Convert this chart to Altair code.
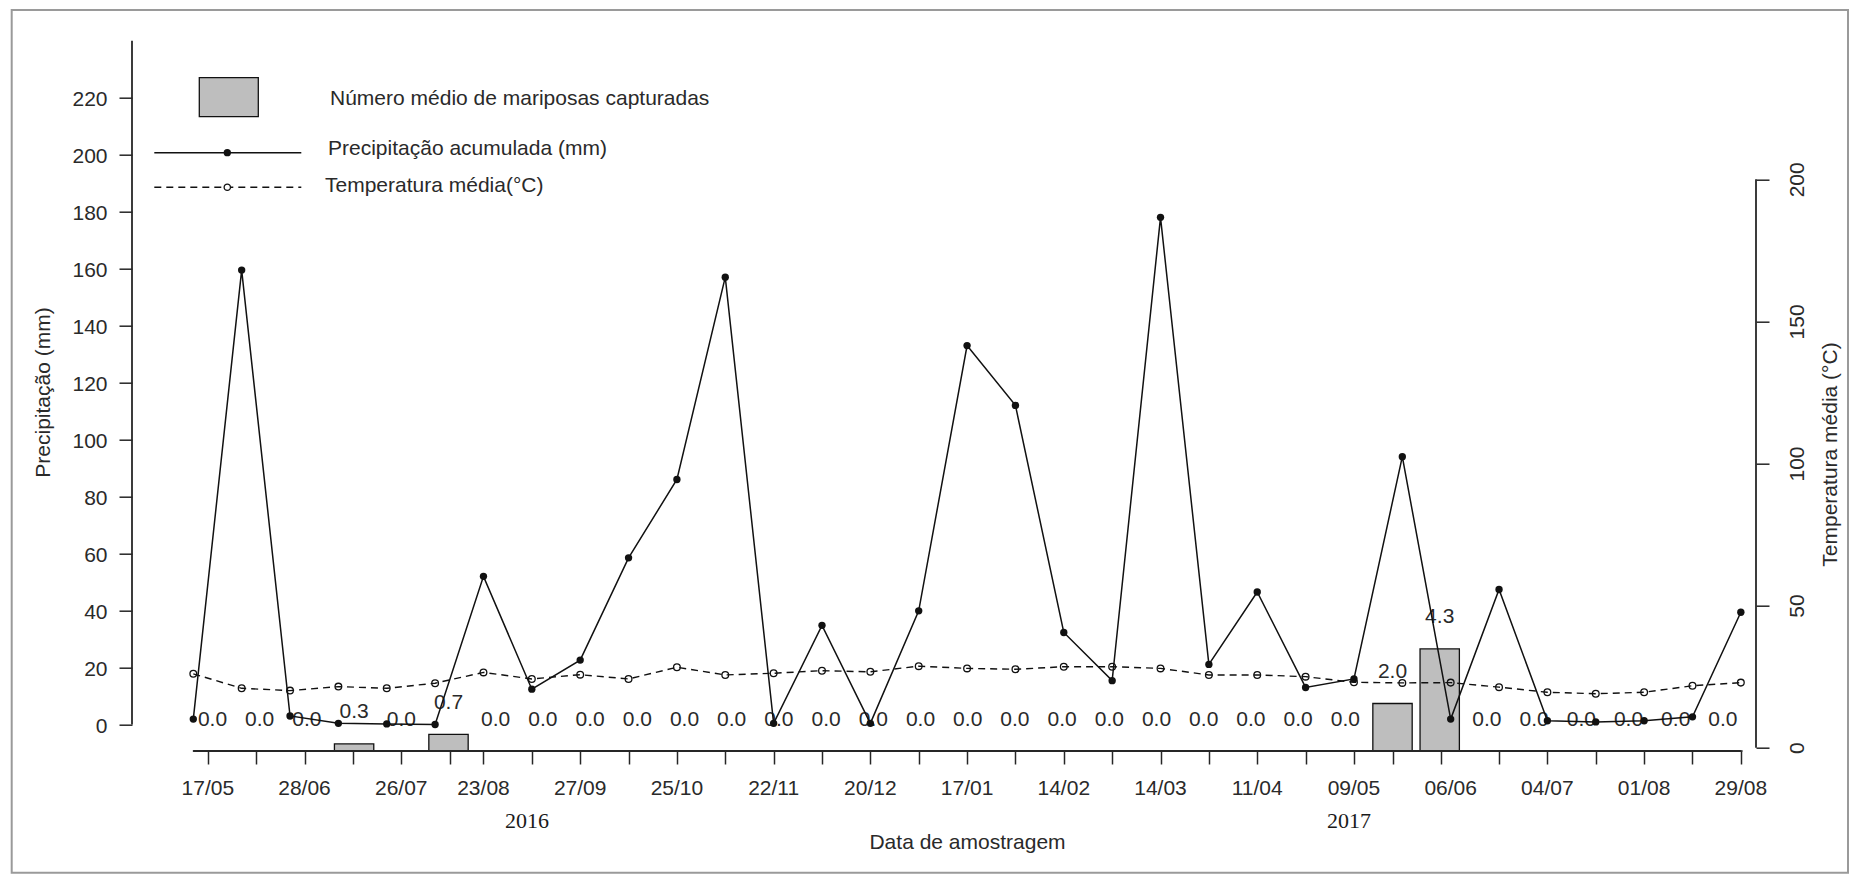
import altair as alt
import pandas as pd

# ---- data -----------------------------------------------------------------
# accumulated rainfall (mm) per sampling interval
precip_mm = [1.9, 159.5, 3.0, 0.4, 0.2, 0.0, 52.0, 12.4, 22.6, 58.5, 86.0,
             157.0, 0.4, 34.8, 0.4, 39.9, 133.0, 112.0, 32.3, 15.4, 178.0,
             21.1, 46.5, 13.0, 16.0, 94.0, 1.9, 47.4, 1.3, 0.9, 1.3, 2.7, 39.4]
# mean temperature (°C) per sampling interval
temp_c = [26.0, 20.9, 20.1, 21.5, 20.9, 22.7, 26.5, 24.2, 25.7, 24.2, 28.3,
          25.6, 26.2, 27.1, 26.7, 28.7, 27.9, 27.6, 28.5, 28.5, 27.9, 25.6,
          25.6, 25.0, 23.0, 22.8, 22.9, 21.3, 19.5, 19.0, 19.5, 21.8, 22.9]
# mean number of moths captured per trap
moths = [0.0, 0.0, 0.0, 0.3, 0.0, 0.7, 0.0, 0.0, 0.0, 0.0, 0.0,
         0.0, 0.0, 0.0, 0.0, 0.0, 0.0, 0.0, 0.0, 0.0, 0.0, 0.0,
         0.0, 0.0, 0.0, 2.0, 4.3, 0.0, 0.0, 0.0, 0.0, 0.0, 0.0]

# sampling dates written under the axis (every other sample)
date_labels = ["17/05", "28/06", "26/07", "23/08", "27/09", "25/10", "22/11",
               "20/12", "17/01", "14/02", "14/03", "11/04", "09/05", "06/06",
               "04/07", "01/08", "29/08"]
date_label_pos = [0.3, 2.3, 4.3, 6, 8, 10, 12, 14, 16, 18, 20, 22, 24, 26,
                  28, 30, 32]
tick_pos = [0.3, 1.3, 2.3, 3.3, 4.3, 5.3] + list(range(6, 25)) + [24.8, 25.8] \
    + list(range(27, 33))
years = ["2016", "2017"]
year_pos = [6.9, 23.9]

precip_ticks = list(range(0, 221, 20))
temp_ticks = [0, 50, 100, 150, 200]

# ---- tables ---------------------------------------------------------------
n = len(precip_mm)
df = pd.DataFrame({"idx": list(range(n)), "precip": precip_mm,
                   "temp": temp_c, "moths": moths})
df["moths_lbl"] = [f"{v:.1f}" for v in moths]
dates_df = pd.DataFrame({"pos": date_label_pos, "lab": date_labels})
years_df = pd.DataFrame({"pos": year_pos, "lab": years})
one = alt.Data(values=[{}])

# ---- styling --------------------------------------------------------------
SANS = "Liberation Sans, Arial, sans-serif"
SERIF = "Liberation Serif, Times New Roman, serif"
INK = "#111111"
TXT = "#2a2a2a"
AX = "#262626"
FS = 21
W, H = 1624, 710.3

xs_pts = alt.Scale(domain=[-1.2676, 32.3135], nice=False, zero=False)
xs_bar = alt.Scale(domain=[-1.7055, 32.701], nice=False, zero=False)
ys_pr = alt.Scale(domain=[-9.30, 240], nice=False, zero=False)
ys_t = alt.Scale(domain=[-1.16, 248.77], nice=False, zero=False)
ys_bar = alt.Scale(domain=[0, 29.91], nice=False, zero=False)

# ---- bars with value labels ----------------------------------------------
bars = alt.Chart(df).transform_calculate(
    x0="datum.idx - 0.4167", x1="datum.idx + 0.4167"
).mark_rect(fill="#bebebe", stroke=INK, strokeWidth=1.3).encode(
    x=alt.X("x0:Q", scale=xs_bar, axis=None),
    x2="x1:Q",
    y=alt.Y("moths:Q", scale=ys_bar, axis=None),
    y2=alt.datum(0),
)
bar_text = alt.Chart(df).mark_text(
    dy=-25.5, baseline="alphabetic", align="center", font=SANS, fontSize=FS,
    color=TXT
).encode(
    x=alt.X("idx:Q", scale=xs_bar, axis=None),
    y=alt.Y("moths:Q", scale=ys_bar, axis=None),
    text="moths_lbl:N",
)

# ---- rainfall -------------------------------------------------------------
x_axis = alt.Axis(
    values=tick_pos, labels=False, domain=False, grid=False, tickSize=13,
    tickWidth=1.5, tickColor=AX, title="Data de amostragem", titleX=835,
    titleY=97.3, titleBaseline="alphabetic", titleAlign="center",
    titleFont=SANS, titleFontSize=FS, titleFontWeight="normal",
    titleColor=TXT,
)
left_axis = alt.Axis(
    values=precip_ticks, orient="left", domain=False, grid=False,
    tickSize=13, tickWidth=1.5, tickColor=AX, labelFont=SANS,
    labelFontSize=FS, labelColor=TXT, labelPadding=12, labelAlign="right",
    labelBaseline="middle", labelOffset=2, labelFlush=False,
    labelOverlap=False, title="Precipitação (mm)", titleAngle=270,
    titleX=-88.7, titleY=351.3, titleBaseline="middle", titleAlign="center",
    titleFont=SANS, titleFontSize=FS, titleFontWeight="normal",
    titleColor=TXT,
)
precip_line = alt.Chart(df).mark_line(color=INK, strokeWidth=1.5).encode(
    x=alt.X("idx:Q", scale=xs_pts, axis=x_axis),
    y=alt.Y("precip:Q", scale=ys_pr, axis=left_axis),
)
precip_pts = alt.Chart(df).mark_point(filled=True, size=54, color=INK,
                                      opacity=1).encode(
    x=alt.X("idx:Q", scale=xs_pts, axis=None),
    y=alt.Y("precip:Q", scale=ys_pr, axis=None),
)
left_rule = alt.Chart(one).mark_rule(color=AX, strokeWidth=1.8).encode(
    x=alt.value(0),
    y=alt.Y(datum=0, scale=ys_pr, axis=None),
    y2=alt.datum(240),
)

# ---- temperature ------------------------------------------------------------
right_axis = alt.Axis(
    values=temp_ticks, orient="right", domain=False, grid=False,
    tickSize=13, tickWidth=1.5, tickColor=AX, labelFont=SANS,
    labelFontSize=FS, labelColor=TXT, labelPadding=17, labelAngle=270,
    labelAlign="center", labelBaseline="top", labelFlush=False,
    labelOverlap=False, title="Temperatura média (°C)", titleAngle=270,
    titleX=74, titleY=413.3, titleBaseline="middle", titleAlign="center",
    titleFont=SANS, titleFontSize=FS, titleFontWeight="normal",
    titleColor=TXT,
)
temp_line = alt.Chart(df).mark_line(color=INK, strokeWidth=1.4,
                                    strokeDash=[7, 5]).encode(
    x=alt.X("idx:Q", scale=xs_pts, axis=None),
    y=alt.Y("temp:Q", scale=ys_t, axis=right_axis),
)
temp_pts = alt.Chart(df).mark_point(filled=False, size=45, strokeWidth=1.3,
                                    color=INK, opacity=1).encode(
    x=alt.X("idx:Q", scale=xs_pts, axis=None),
    y=alt.Y("temp:Q", scale=ys_t, axis=None),
)
right_rule = alt.Chart(one).mark_rule(color=AX, strokeWidth=1.8).encode(
    x=alt.value(W),
    y=alt.Y(datum=0, scale=ys_t, axis=None),
    y2=alt.datum(200),
)

# ---- x axis line and date / year labels ------------------------------------
bottom_rule = alt.Chart(one).mark_rule(color=AX, strokeWidth=1.8).encode(
    y=alt.value(H),
    x=alt.X(datum=0, scale=xs_pts, axis=None),
    x2=alt.datum(32),
)
date_text = alt.Chart(dates_df).mark_text(
    baseline="alphabetic", align="center", font=SANS, fontSize=FS, color=TXT
).encode(
    x=alt.X("pos:Q", scale=xs_pts, axis=None),
    y=alt.value(754.3),
    text="lab:N",
)
year_text = alt.Chart(years_df).mark_text(
    baseline="alphabetic", align="center", font=SERIF, fontSize=22,
    color="#1a1a1a"
).encode(
    x=alt.X("pos:Q", scale=xs_pts, axis=None),
    y=alt.value(787.6),
    text="lab:N",
)

# ---- legend (top left, inside the plot) -------------------------------------
leg_box = alt.Chart(one).mark_rect(fill="#bebebe", stroke=INK,
                                   strokeWidth=1.3).encode(
    x=alt.value(67.3), x2=alt.value(126.3), y=alt.value(37), y2=alt.value(76)
)
leg_solid = alt.Chart(one).mark_rule(color=INK, strokeWidth=1.5).encode(
    x=alt.value(22.3), x2=alt.value(169.3), y=alt.value(112)
)
leg_solid_pt = alt.Chart(one).mark_point(filled=True, size=54, color=INK,
                                         opacity=1).encode(
    x=alt.value(95.3), y=alt.value(112)
)
leg_dash = alt.Chart(one).mark_rule(color=INK, strokeWidth=1.4,
                                    strokeDash=[7, 5]).encode(
    x=alt.value(22.3), x2=alt.value(169.3), y=alt.value(146.6)
)
leg_dash_pt = alt.Chart(one).mark_point(filled=True, size=40, fill="white",
                                        stroke=INK, strokeWidth=1.3,
                                        opacity=1).encode(
    x=alt.value(95.3), y=alt.value(146.6)
)
leg_txt_style = dict(baseline="alphabetic", align="left", font=SANS,
                     fontSize=FS, color=TXT)
leg_t1 = alt.Chart(one).mark_text(
    text="Número médio de mariposas capturadas", **leg_txt_style
).encode(x=alt.value(198), y=alt.value(64.3))
leg_t2 = alt.Chart(one).mark_text(
    text="Precipitação acumulada (mm)", **leg_txt_style
).encode(x=alt.value(196), y=alt.value(114.3))
leg_t3 = alt.Chart(one).mark_text(
    text="Temperatura média(°C)", **leg_txt_style
).encode(x=alt.value(193), y=alt.value(150.8))

# ---- outer frame -------------------------------------------------------------
frame = alt.Chart(one).mark_rect(fill="white", fillOpacity=0,
                                 stroke="#9a9a9a", strokeWidth=2).encode(
    x=alt.value(-120.3), x2=alt.value(1716), y=alt.value(-30.7),
    y2=alt.value(832)
)

chart = alt.layer(
    frame, bars, bar_text, left_rule, right_rule, bottom_rule,
    temp_line, temp_pts, precip_line, precip_pts,
    date_text, year_text,
    leg_box, leg_solid, leg_solid_pt, leg_dash, leg_dash_pt,
    leg_t1, leg_t2, leg_t3,
).resolve_scale(
    x="independent", y="independent"
).properties(
    width=W, height=H,
    padding={"left": 132, "top": 40.7, "right": 105, "bottom": 137},
    autosize=alt.AutoSizeParams(type="none"),
    background="white",
).configure_view(strokeWidth=0)

chart.save("out.html", embed_options={"renderer": "svg", "actions": False})
